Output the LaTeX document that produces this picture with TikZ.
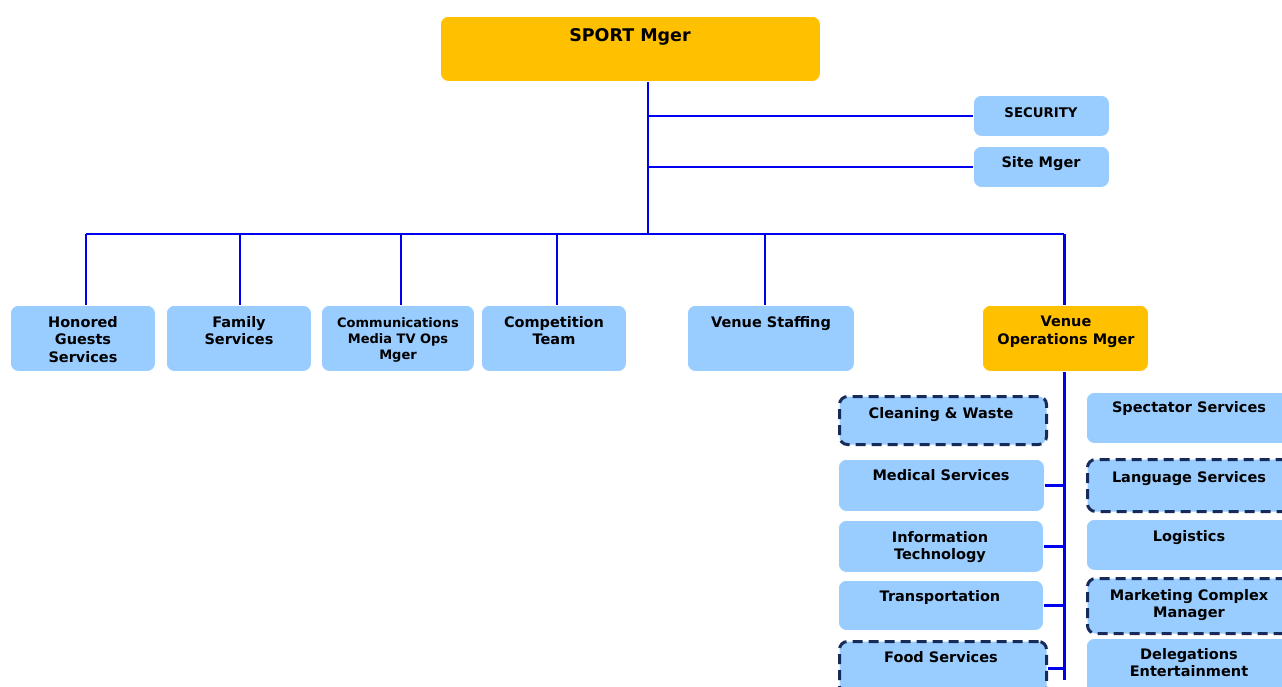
\documentclass[tikz,border=0pt]{standalone}
\usepackage{fontspec}
\setmainfont{DejaVu Sans}
\usetikzlibrary{calc}
\definecolor{mgrorange}{HTML}{FFC000}
\definecolor{unitblue}{HTML}{99CCFF}
\definecolor{navyedge}{HTML}{172B5A}
\definecolor{wire}{HTML}{0000F0}
\tikzset{
  box/.style={rectangle, rounded corners=8pt, fill=unitblue, draw=white, line width=0.8pt, inner sep=0pt, anchor=north west},
  mgr/.style={box, fill=mgrorange},
  dashbox/.style={box, draw=navyedge, line width=3pt, dash pattern=on 10pt off 6pt},
  lbl/.style={anchor=north, inner sep=0pt, align=center, font=\bfseries\fontsize{14.5}{17.5}\selectfont},
  small/.style={font=\bfseries\fontsize{13}{16}\selectfont},
  link/.style={draw=wire, line width=2.2pt}
}
\begin{document}
\begin{tikzpicture}[x=1pt,y=-1pt]
\useasboundingbox (0,0) rectangle (1282,686);
\clip (0,0) rectangle (1282,686);
\fill[white] (0,0) rectangle (1282,686);

% top manager and staff units
\node[mgr, minimum width=380pt, minimum height=65pt] (sport) at (440,16) {};
\node[lbl, font=\bfseries\fontsize{17.5}{20}\selectfont] (sport-t) at (630,28) {SPORT Mger};
\node[box, minimum width=136pt, minimum height=41pt] (sec) at (973,95) {};
\node[lbl, font=\bfseries\fontsize{13.3}{15}\selectfont] (sec-t) at (1041,107) {SECURITY};
\node[box, minimum width=136pt, minimum height=41pt] (site) at (973,146) {};
\node[lbl] (site-t) at (1041,156) {Site Mger};

% second level
\node[box, minimum width=145pt, minimum height=66pt] (hon) at (10,305) {};
\node[lbl] (hon-t) at (83,316) {Honored\\Guests\\Services};
\node[box, minimum width=145pt, minimum height=66pt] (fam) at (166,305) {};
\node[lbl] (fam-t) at (239,316) {Family\\Services};
\node[box, minimum width=153pt, minimum height=66pt] (com) at (321,305) {};
\node[lbl, small] (com-t) at (398,317) {Communications\\Media TV Ops\\Mger};
\node[box, minimum width=145pt, minimum height=66pt] (comp) at (481,305) {};
\node[lbl] (comp-t) at (554,316) {Competition\\Team};
\node[box, minimum width=167pt, minimum height=66pt] (staff) at (687,305) {};
\node[lbl] (staff-t) at (771,316) {Venue Staffing};
\node[mgr, minimum width=166pt, minimum height=66pt] (vom) at (982,305) {};
\node[lbl] (vom-t) at (1066,316) {Venue\\Operations Mger};

% venue operations units, left column
\node[dashbox, minimum width=207pt, minimum height=48pt] (clean) at (838,395) {};
\node[lbl] (clean-t) at (941,407) {Cleaning \& Waste};
\node[box, minimum width=206pt, minimum height=52pt] (med) at (838,459) {};
\node[lbl] (med-t) at (941,469) {Medical Services};
\node[box, minimum width=205pt, minimum height=52pt] (it) at (838,520) {};
\node[lbl] (it-t) at (940,531) {Information\\Technology};
\node[box, minimum width=205pt, minimum height=50pt] (trans) at (838,580) {};
\node[lbl] (trans-t) at (940,590) {Transportation};
\node[dashbox, minimum width=207pt, minimum height=54pt] (food) at (838,640) {};
\node[lbl] (food-t) at (941,651) {Food Services};

% venue operations units, right column
\node[box, minimum width=206pt, minimum height=51pt] (spec) at (1086,392) {};
\node[lbl] (spec-t) at (1189,401) {Spectator Services};
\node[dashbox, minimum width=206pt, minimum height=52pt] (lang) at (1086,458) {};
\node[lbl] (lang-t) at (1189,471) {Language Services};
\node[box, minimum width=206pt, minimum height=51pt] (logi) at (1086,519) {};
\node[lbl] (logi-t) at (1189,530) {Logistics};
\node[dashbox, minimum width=206pt, minimum height=55pt] (mkt) at (1086,577) {};
\node[lbl] (mkt-t) at (1189,589) {Marketing Complex\\Manager};
\node[box, minimum width=206pt, minimum height=56pt] (deleg) at (1086,638) {};
\node[lbl] (deleg-t) at (1189,648) {Delegations\\Entertainment};

% connectors
\coordinate (trunk) at (648,234);
\coordinate (vend) at (1064,680);
\draw[link] (sport.south -| trunk) -- (trunk);
\draw[link] (sec.west -| trunk) -- (sec.west);
\draw[link] (site.west -| trunk) -- (site.west);
\draw[link] ([xshift=3pt]hon.north |- trunk) -- ([xshift=-1pt]vom.north |- trunk);
\foreach \n/\dx in {hon/3,fam/1,com/3,comp/3,staff/-6,vom/-1}
  \draw[link] ([xshift=\dx pt]\n.north |- trunk) -- ([xshift=\dx pt]\n.north);
\draw[link] ([xshift=-1pt]vom.south) -- ([xshift=-1pt]vom.south |- vend);
\foreach \n in {med,it,trans,food}
  \draw[link] (\n.east) -- (\n.east -| vend);
\foreach \n in {spec,lang,logi,mkt,deleg}
  \draw[link] ($(\n.north west)+(0,15)$ -| vend) -- ($(\n.north west)+(0,15)$);
\end{tikzpicture}
\end{document}
